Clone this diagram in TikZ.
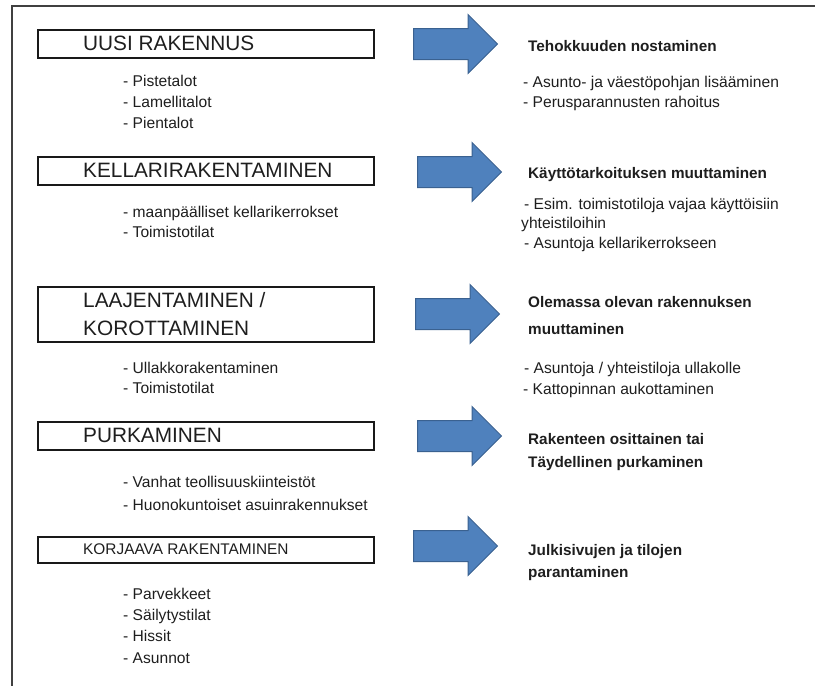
\documentclass[tikz,border=0pt]{standalone}
\usepackage{fontspec}
\setmainfont{Liberation Sans}
\usetikzlibrary{shapes.arrows}
\definecolor{arrowfill}{HTML}{4F81BD}
\definecolor{arrowedge}{HTML}{3A6190}
\definecolor{framegray}{HTML}{404040}
\definecolor{textgray}{HTML}{1E1E1E}
\begin{document}
\begin{tikzpicture}[x=1pt,y=-1pt,
  headbox/.style={draw=black!90, line width=1.8pt, minimum width=336pt, anchor=north west, inner sep=0pt},
  title/.style={anchor=west, inner sep=0pt, text=textgray, font=\fontsize{20.8}{24}\selectfont},
  smalltitle/.style={title, font=\fontsize{15.4}{18}\selectfont},
  item/.style={anchor=west, inner sep=0pt, text height=11pt, text depth=3pt, text=textgray, font=\fontsize{15.6}{18}\selectfont},
  lead/.style={item, font=\fontsize{15.3}{18}\selectfont\bfseries},
  bigarrow/.style={single arrow, anchor=tail, fill=arrowfill, draw=arrowedge, line width=1pt,
    minimum height=84pt, inner xsep=0pt, inner ysep=15pt,
    single arrow head extend=14pt, single arrow head indent=0pt}]
\useasboundingbox (0,0) rectangle (815,686);

% outer frame (left and top edges only)
\coordinate (fbot) at (12,686);
\coordinate (fcorner) at (12,6);
\coordinate (fright) at (815,6);
\draw[framegray, line width=1.6pt] (fbot) -- (fcorner) -- (fright);

% headline boxes
\node[headbox, minimum height=28pt] (b1) at (37,29) {};
\node[headbox, minimum height=28pt] (b2) at (37,156) {};
\node[headbox, minimum height=55pt] (b3) at (37,286) {};
\node[headbox, minimum height=28pt] (b4) at (37,421) {};
\node[headbox, minimum height=26pt] (b5) at (37,536) {};

\node[title] (t1) at (83,43) {UUSI RAKENNUS};
\node[title] (t2) at (83,170) {KELLARIRAKENTAMINEN};
\node[title] (t3a) at (83,300) {LAAJENTAMINEN /};
\node[title] (t3b) at (83,328) {KOROTTAMINEN};
\node[title] (t4) at (83,435) {PURKAMINEN};
\node[smalltitle] (t5) at (83,549) {KORJAAVA RAKENTAMINEN};

% items under each box
\node[item] (l1a) at (123,82) {- Pistetalot};
\node[item] (l1b) at (123,103) {- Lamellitalot};
\node[item] (l1c) at (123,124) {- Pientalot};
\node[item] (l2a) at (123,213) {- maanpäälliset kellarikerrokset};
\node[item] (l2b) at (123,233) {- Toimistotilat};
\node[item] (l3a) at (123,369) {- Ullakkorakentaminen};
\node[item] (l3b) at (123,389) {- Toimistotilat};
\node[item] (l4a) at (123,483) {- Vanhat teollisuuskiinteistöt};
\node[item] (l4b) at (123,506) {- Huonokuntoiset asuinrakennukset};
\node[item] (l5a) at (123,595) {- Parvekkeet};
\node[item] (l5b) at (123,616) {- Säilytystilat};
\node[item] (l5c) at (123,637) {- Hissit};
\node[item] (l5d) at (123,659) {- Asunnot};

% block arrows
\node[bigarrow] (a1) at (413,44) {};
\node[bigarrow] (a2) at (417,172) {};
\node[bigarrow] (a3) at (415,314) {};
\node[bigarrow] (a4) at (417,436) {};
\node[bigarrow] (a5) at (413,546) {};

% outcomes
\node[lead] (r1) at (528,47) {Tehokkuuden nostaminen};
\node[item] (r1a) at (523,83) {- Asunto- ja väestöpohjan lisääminen};
\node[item] (r1b) at (523,103) {- Perusparannusten rahoitus};

\node[lead] (r2) at (528,174) {Käyttötarkoituksen muuttaminen};
\node[item] (r2a) at (524,205) {- Esim. toimistotiloja vajaa käyttöisiin};
\node[item] (r2b) at (521,224) {yhteistiloihin};
\node[item] (r2c) at (524,244) {- Asuntoja kellarikerrokseen};

\node[lead] (r3a) at (528,303) {Olemassa olevan rakennuksen};
\node[lead] (r3b) at (528,330) {muuttaminen};
\node[item] (r3c) at (524,369) {- Asuntoja / yhteistiloja ullakolle};
\node[item] (r3d) at (523,390) {- Kattopinnan aukottaminen};

\node[lead] (r4a) at (528,440) {Rakenteen osittainen tai};
\node[lead] (r4b) at (528,463) {Täydellinen purkaminen};

\node[lead] (r5a) at (528,551) {Julkisivujen ja tilojen};
\node[lead] (r5b) at (528,573) {parantaminen};
\end{tikzpicture}
\end{document}
